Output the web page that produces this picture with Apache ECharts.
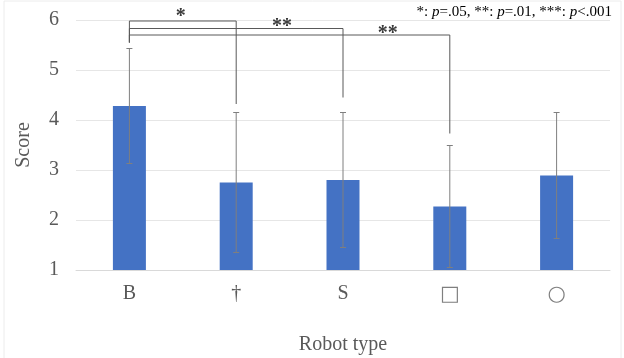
<!DOCTYPE html>
<html>
<head>
<meta charset="utf-8">
<script src="https://cdn.jsdelivr.net/npm/echarts@6/dist/echarts.min.js"></script>
<style>html,body{margin:0;padding:0;background:#fff}#c{width:624px;height:358px}</style>
</head>
<body>
<div id="c"></div>
<script>
// ---- data ----
const categories = ['B', '†', 'S', '□', '○'];
const means = [4.28, 2.75, 2.80, 2.27, 2.89];
const sds = [1.15, 1.40, 1.35, 1.22, 1.26];
const yTicks = [1, 2, 3, 4, 5, 6];
// significance brackets: from category, to category, bracket level, left-leg end, right-leg end
const bracketFrom = [0, 0, 0];
const bracketTo = [1, 2, 3];
const bracketLevel = [5.98, 5.83, 5.70];
const bracketLeftEnd = [5.55, 5.55, 5.55];
const bracketRightEnd = [4.32, 4.45, 3.73];
const bracketLabels = ['*', '**', '**'];
const labelX = [0.48, 1.43, 2.42];
const labelY = [6.07, 5.87, 5.72];

const SERIF = "'Liberation Serif','Times New Roman',serif";
const chart = echarts.init(document.getElementById('c'), null, {renderer: 'canvas'});

function lerpCoord(api, x, y) {
  const a = Math.floor(x), b = Math.ceil(x);
  const pa = api.coord([a, y]), pb = api.coord([b, y]);
  const t = x - a;
  return [pa[0] + (pb[0] - pa[0]) * t, pa[1]];
}

chart.setOption({
  animation: false,
  grid: {left: 76, right: 14, top: 20, bottom: 88, containLabel: false, outerBoundsMode: 'none'},
  xAxis: {
    type: 'category',
    data: categories,
    name: 'Robot type',
    nameLocation: 'middle',
    nameGap: 65,
    nameTextStyle: {fontFamily: SERIF, fontSize: 20, color: '#595959'},
    axisLine: {show: true, lineStyle: {color: '#d9d9d9'}},
    axisTick: {show: false},
    axisLabel: {
      fontFamily: SERIF, fontSize: 20, color: '#595959', margin: 14,
      formatter: function (v) { return (v === '□' || v === '○') ? '{s|' + v + '}' : v; },
      rich: {s: {fontFamily: "'DejaVu Sans'", fontSize: 21, color: '#7f7f7f'}}
    }
  },
  yAxis: {
    type: 'value',
    min: yTicks[0],
    max: yTicks[yTicks.length - 1],
    interval: 1,
    name: 'Score',
    nameLocation: 'middle',
    nameGap: 42,
    nameTextStyle: {fontFamily: SERIF, fontSize: 20, color: '#595959'},
    axisLine: {show: false},
    axisTick: {show: false},
    splitLine: {lineStyle: {color: '#e6e6e6'}},
    axisLabel: {fontFamily: SERIF, fontSize: 20, color: '#595959', margin: 17}
  },
  graphic: [
    {type: 'rect', shape: {x: 4, y: 1, width: 617, height: 370}, style: {fill: 'none', stroke: '#ececec', lineWidth: 1}, silent: true, z: -10},
    {
      type: 'text', right: 12, top: 5,
      style: {
        text: '{n|*: }{i|p}{n|=.05, **: }{i|p}{n|=.01, ***: }{i|p}{n|<.001}',
        fill: '#000',
        rich: {
          n: {fontFamily: SERIF, fontSize: 15, fill: '#000'},
          i: {fontFamily: SERIF, fontSize: 15, fontStyle: 'italic', fill: '#000'}
        }
      }
    }
  ],
  series: [
    {
      type: 'bar',
      data: means.map(v => v),
      barWidth: 33,
      itemStyle: {color: '#4472C4'},
      z: 2
    },
    {
      type: 'custom',
      data: means.map((m, i) => [i, m]),
      z: 3,
      renderItem: function (params, api) {
        const i = params.dataIndex;
        const hi = api.coord([i, means[i] + sds[i]]);
        const lo = api.coord([i, means[i] - sds[i]]);
        const c = 3;
        const st = {stroke: '#7f7f7f', lineWidth: 1};
        return {type: 'group', children: [
          {type: 'line', shape: {x1: hi[0], y1: hi[1], x2: lo[0], y2: lo[1]}, style: st},
          {type: 'line', shape: {x1: hi[0] - c, y1: hi[1], x2: hi[0] + c, y2: hi[1]}, style: st},
          {type: 'line', shape: {x1: lo[0] - c, y1: lo[1], x2: lo[0] + c, y2: lo[1]}, style: st}
        ]};
      }
    },
    {
      type: 'custom',
      data: bracketFrom.map((f, i) => [f, bracketLevel[i]]),
      z: 4,
      renderItem: function (params, api) {
        const i = params.dataIndex;
        const a = api.coord([bracketFrom[i], bracketLevel[i]]);
        const b = api.coord([bracketTo[i], bracketLevel[i]]);
        const aEnd = api.coord([bracketFrom[i], bracketLeftEnd[i]]);
        const bEnd = api.coord([bracketTo[i], bracketRightEnd[i]]);
        const t = lerpCoord(api, labelX[i], labelY[i]);
        const st = {stroke: '#595959', lineWidth: 1};
        return {type: 'group', children: [
          {type: 'polyline', shape: {points: [[aEnd[0], aEnd[1]], [a[0], a[1]], [b[0], b[1]], [bEnd[0], bEnd[1]]]}, style: Object.assign({fill: 'none'}, st)},
          {type: 'text', x: t[0], y: t[1], style: {text: bracketLabels[i], fontFamily: SERIF, fontSize: 20, fontWeight: 'bold', fill: '#3a3a3a', align: 'center', verticalAlign: 'middle'}}
        ]};
      }
    }
  ]
});
</script>
</body>
</html>
